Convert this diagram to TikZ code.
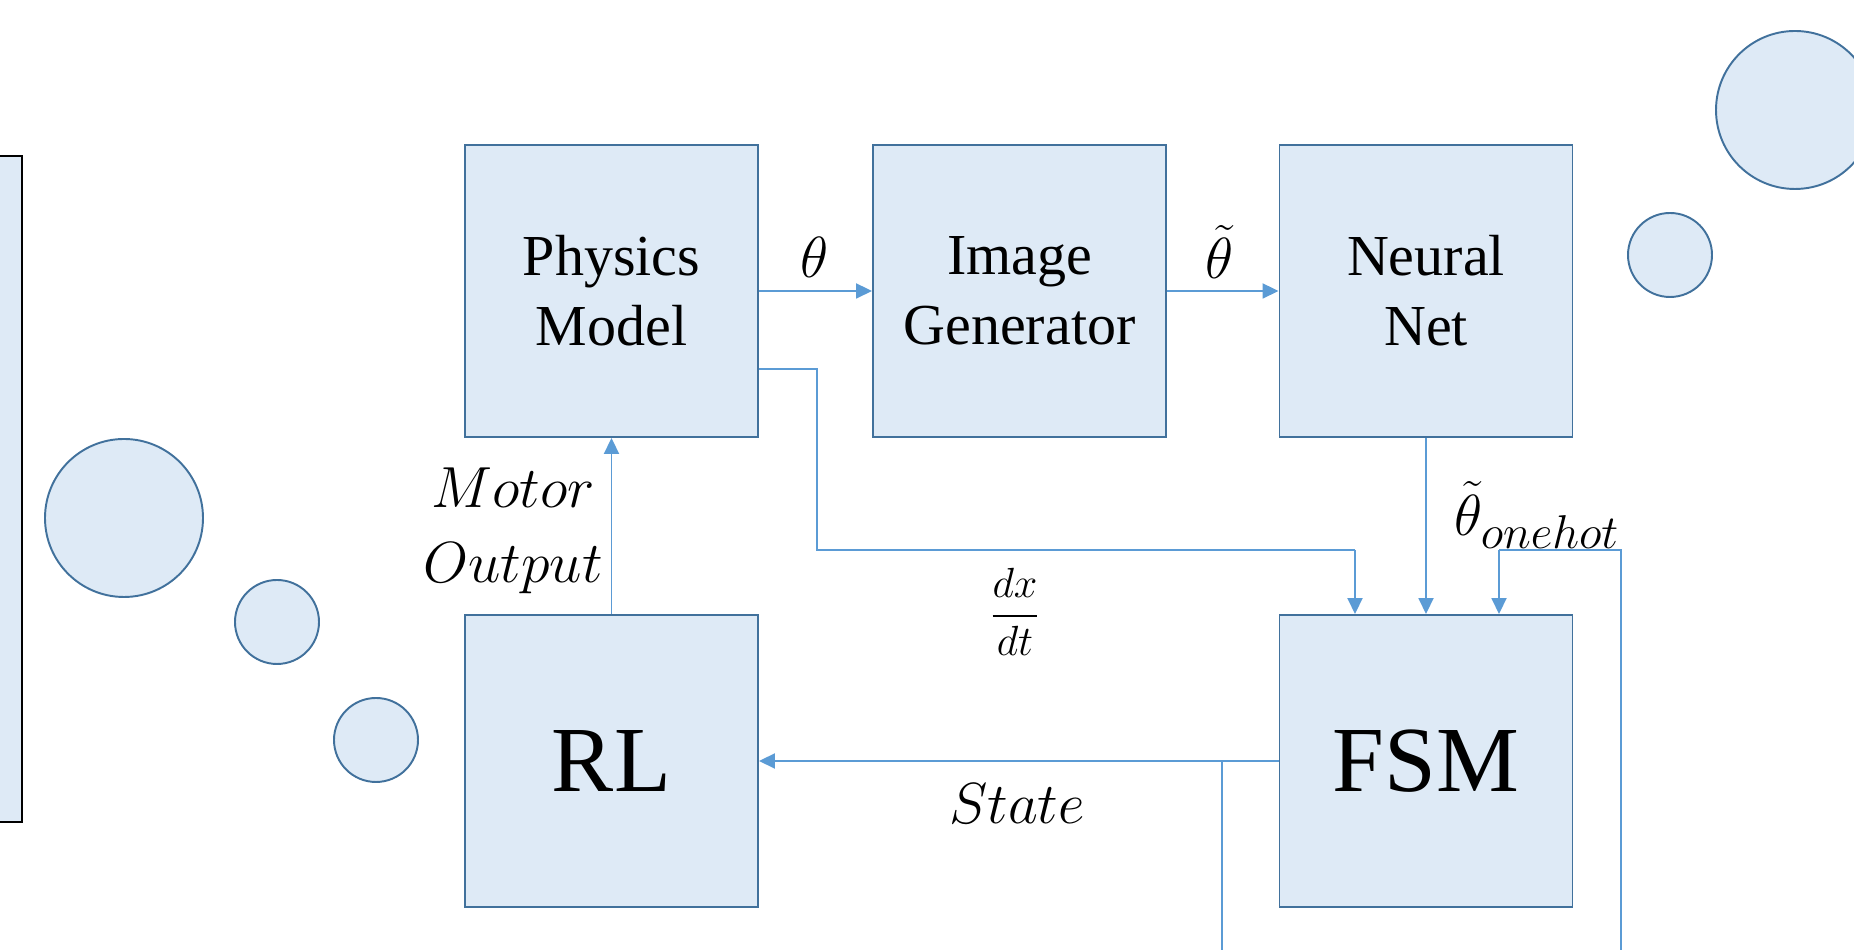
\RequirePackage{fix-cm}
\documentclass[tikz,border=0pt]{standalone}
\usepackage{amsmath}
\usepackage{fontspec}
\setmainfont{Liberation Serif}
\usetikzlibrary{arrows.meta}
\DeclareMathSizes{33}{33}{27}{20}

\definecolor{boxfill}{HTML}{DEEAF6}
\definecolor{boxline}{HTML}{41719C}
\definecolor{flowline}{HTML}{5B9BD5}

\begin{document}
\begin{tikzpicture}[x=1cm,y=1cm]
\tikzset{
  blockbox/.style={rectangle,draw=boxline,fill=boxfill,line width=1.1pt,minimum width=5.86cm,minimum height=5.84cm,align=center,inner sep=0pt,font=\fontsize{33}{40}\selectfont},
  bigbox/.style={blockbox,font=\fontsize{53}{60}\selectfont},
  bubble/.style={circle,draw=boxline,fill=boxfill,line width=1.1pt,inner sep=0pt},
  flow/.style={-{Triangle[length=3.2mm,width=3mm]},draw=flowline,line width=1.1pt},
  wire/.style={draw=flowline,line width=0.7pt},
  sig/.style={inner sep=0pt,font=\fontsize{33}{43}\selectfont}
}
\useasboundingbox (0,0) rectangle (37.08,19);
% side panel and bubbles
\draw[black,fill=boxfill,line width=0.8pt] (-0.2,2.56) rectangle (0.44,15.88);
\node[bubble,minimum size=3.16cm] (b_1) at (2.48,8.64) {};
\node[bubble,minimum size=1.68cm] (b_2) at (5.54,6.56) {};
\node[bubble,minimum size=1.68cm] (b_3) at (7.52,4.20) {};
\node[bubble,minimum size=3.16cm] (b_4) at (35.90,16.80) {};
\node[bubble,minimum size=1.68cm] (b_5) at (33.40,13.90) {};
% blocks
\node[blockbox] (n_phys) at (12.23,13.18) {Physics\\Model};
\node[blockbox] (n_img) at (20.39,13.18) {Image\\Generator};
\node[blockbox] (n_net) at (28.52,13.18) {Neural\\Net};
\node[bigbox] (n_rl) at (12.23,3.78) {RL};
\node[bigbox] (n_fsm) at (28.52,3.78) {FSM};
% helper points
\coordinate (c_dx0) at ([yshift=-1.56cm]n_phys.east);
\coordinate (c_dx1) at (27.10,8.00);
\coordinate (c_fb0) at (32.42,0);
\coordinate (c_fb1) at (29.98,8.00);
\coordinate (c_st0) at (24.44,3.76);
\coordinate (c_st1) at (24.44,0);
% connectors
\draw[flow] (n_phys) -- (n_img);
\draw[flow] (n_img) -- (n_net);
\draw[flow] (n_net) -- (n_fsm);
\draw[flow] (n_rl) -- (n_phys);
\draw[flow] (n_fsm.west) -- (n_rl.east);
\draw[wire] (c_dx0) -| (16.34,8.00) -- (c_dx1);
\draw[flow] (c_dx1) -- (c_dx1 |- n_fsm.north);
\draw[wire] (c_fb0) |- (c_fb1);
\draw[flow] (c_fb1) -- (c_fb1 |- n_fsm.north);
\draw[wire] (c_st0) -- (c_st1);
% labels
\node[sig] (l_theta) at (16.30,13.86) {$\theta$};
\node[sig] (l_ttheta) at (24.40,13.96) {$\tilde{\theta}$};
\node[sig,anchor=west] (l_onehot) at (29.08,8.70) {$\tilde{\theta}_{onehot}$};
\node[sig,anchor=east,align=center] (l_motor) at (12.06,8.38) {$Motor$\\$Output$};
\node[sig,font=\fontsize{24}{28}\selectfont] (l_dxdt) at (20.30,6.76) {$\dfrac{dx}{dt}$};
\node[sig] (l_state) at (20.34,2.92) {$State$};
\end{tikzpicture}
\end{document}
